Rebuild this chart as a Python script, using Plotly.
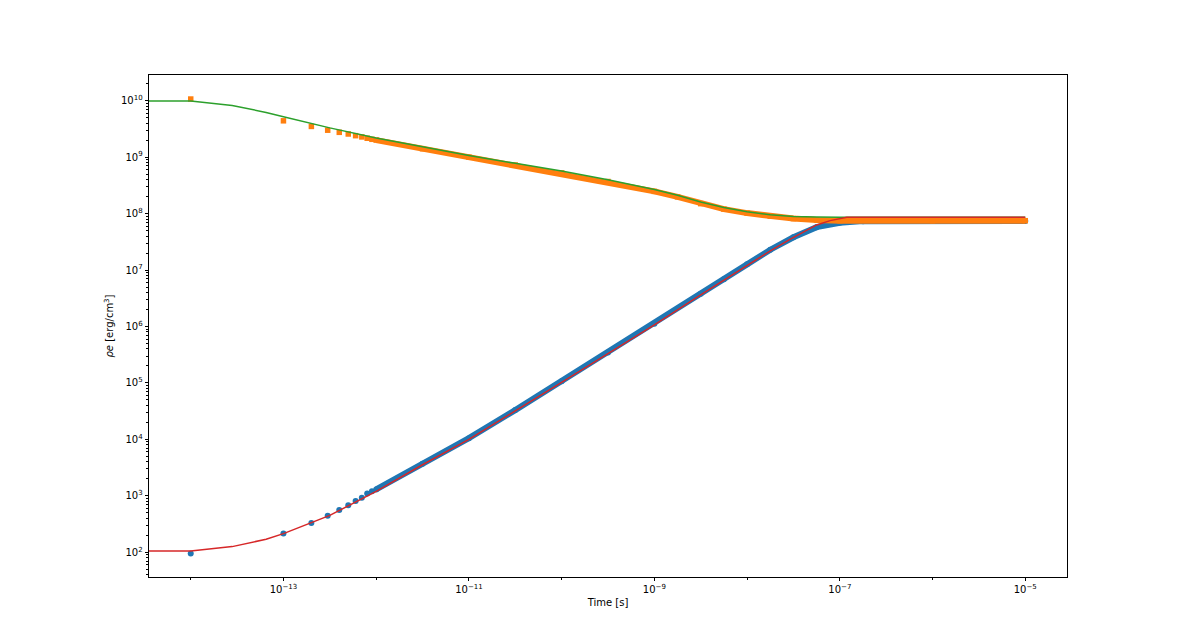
import plotly.graph_objects as go

# ---------------- data ----------------
# simulation markers: species 1 (orange squares), species 2 (blue circles)
orange_t = [1e-14, 1e-13, 2e-13, 3e-13, 4e-13, 5e-13, 6e-13, 7e-13, 8e-13, 9e-13,
            1e-12, 3.16e-12, 1e-11, 3.16e-11, 1e-10, 3.16e-10, 1e-9, 1.78e-9, 3.16e-9,
            5.62e-9, 1e-8, 1.78e-8, 3.16e-8, 5.62e-8, 1e-7, 1e-6, 1e-5]
orange_e = [1.07e10, 4.4e9, 3.5e9, 3.0e9, 2.75e9, 2.57e9, 2.4e9, 2.28e9, 2.16e9, 2.07e9,
            2.0e9, 1.41e9, 1.0e9, 7.24e8, 5.25e8, 3.7e8, 2.47e8, 1.98e8, 1.5e8,
            1.2e8, 1.02e8, 9.0e7, 8.15e7, 7.7e7, 7.5e7, 7.48e7, 7.48e7]

blue_t = [1e-14, 1e-13, 2e-13, 3e-13, 4e-13, 5e-13, 6e-13, 7e-13, 8e-13, 9e-13,
          1e-12, 3.16e-12, 1e-11, 3.16e-11, 1e-10, 3.16e-10, 1e-9, 3.16e-9,
          5.62e-9, 1e-8, 1.78e-8, 3.16e-8, 5.62e-8, 1e-7, 1.78e-7, 1e-6, 1e-5]
blue_e = [95, 214, 330, 445, 562, 681, 811, 927, 1095, 1200,
          1300, 3.7e3, 1.05e4, 3.3e4, 1.07e5, 3.47e5, 1.12e6, 3.8e6,
          6.9e6, 1.26e7, 2.29e7, 3.8e7, 5.75e7, 6.9e7, 7.35e7, 7.4e7, 7.4e7]

# reference curves: green (species 1) and red (species 2)
green_t = [1e-16, 1e-14, 2.8e-14, 6.5e-14, 1e-13, 2e-13, 3.16e-13, 1e-12, 3.16e-12,
           1e-11, 3.16e-11, 1e-10, 3.16e-10, 1e-9, 1.78e-9, 3.16e-9, 5.62e-9, 1e-8,
           1.78e-8, 3.16e-8, 5.62e-8, 1e-7, 1e-5]
green_e = [9.9e9, 9.9e9, 8.2e9, 6.2e9, 5.2e9, 3.9e9, 3.3e9, 2.19e9, 1.51e9,
           1.07e9, 7.76e8, 5.69e8, 3.98e8, 2.68e8, 2.12e8, 1.6e8, 1.28e8, 1.08e8,
           9.5e7, 8.9e7, 8.66e7, 8.6e7, 8.6e7]

red_t = [1e-16, 1e-14, 2.8e-14, 6.5e-14, 1e-13, 2e-13, 3.16e-13, 1e-12, 3.16e-12,
         1e-11, 3.16e-11, 1e-10, 3.16e-10, 1e-9, 3.16e-9, 1e-8, 1.78e-8, 2.9e-8,
         5.62e-8, 7.87e-8, 1e-7, 1.19e-7, 1e-5]
red_e = [105, 105, 126, 170, 214, 330, 450, 1200, 3.55e3,
         1.0e4, 3.16e4, 1.02e5, 3.3e5, 1.07e6, 3.63e6, 1.2e7, 2.19e7, 3.5e7,
         6.3e7, 7.5e7, 8.1e7, 8.6e7, 8.6e7]

x_tickvals = [1e-13, 1e-11, 1e-9, 1e-7, 1e-5]
x_ticktext = ["10<sup>−13</sup>", "10<sup>−11</sup>", "10<sup>−9</sup>",
              "10<sup>−7</sup>", "10<sup>−5</sup>"]
x_minorvals = [1e-14, 1e-12, 1e-10, 1e-8, 1e-6]
y_tickvals = [1e2, 1e3, 1e4, 1e5, 1e6, 1e7, 1e8, 1e9, 1e10]
y_ticktext = ["10<sup>%d</sup>" % k for k in range(2, 11)]

BLUE = "#1f77b4"
ORANGE = "#ff7f0e"
GREEN = "#2ca02c"
RED = "#d62728"

BAND_FROM = 1e-12  # where markers overlap into a continuous band

fig = go.Figure()

# blue circles
fig.add_trace(go.Scatter(x=[t for t in blue_t if t >= BAND_FROM],
                         y=[e for t, e in zip(blue_t, blue_e) if t >= BAND_FROM],
                         mode="lines", line=dict(color=BLUE, width=6),
                         hoverinfo="skip"))
fig.add_trace(go.Scatter(x=blue_t, y=blue_e, mode="markers",
                         marker=dict(symbol="circle", size=6, color=BLUE,
                                     line=dict(width=0))))
# orange squares
fig.add_trace(go.Scatter(x=[t for t in orange_t if t >= BAND_FROM],
                         y=[e for t, e in zip(orange_t, orange_e) if t >= BAND_FROM],
                         mode="lines", line=dict(color=ORANGE, width=6),
                         hoverinfo="skip"))
fig.add_trace(go.Scatter(x=orange_t, y=orange_e, mode="markers",
                         marker=dict(symbol="square", size=5.5, color=ORANGE,
                                     line=dict(width=0))))
# reference lines
fig.add_trace(go.Scatter(x=green_t, y=green_e, mode="lines",
                         line=dict(color=GREEN, width=1.5)))
fig.add_trace(go.Scatter(x=red_t, y=red_e, mode="lines",
                         line=dict(color=RED, width=1.5)))

axis_font = dict(family="DejaVu Sans", size=10, color="black")

fig.update_layout(
    width=1161, height=628,
    margin=dict(l=141, r=102, t=67, b=59),
    paper_bgcolor="white", plot_bgcolor="white",
    showlegend=False,
    font=axis_font,
)
fig.update_xaxes(
    type="log", range=[-14.45, -4.55],
    tickvals=x_tickvals, ticktext=x_ticktext,
    ticks="outside", ticklen=3.5, tickwidth=0.8, tickcolor="black",
    minor=dict(tickvals=x_minorvals, ticks="outside", ticklen=2,
               tickwidth=0.6, tickcolor="black", showgrid=False),
    showgrid=False, zeroline=False,
    showline=True, mirror=True, linecolor="black", linewidth=0.8,
    tickfont=axis_font,
    title=dict(text="Time [s]", font=axis_font, standoff=4),
)
fig.update_yaxes(
    type="log", range=[1.562, 10.455],
    tickvals=y_tickvals, ticktext=y_ticktext,
    ticks="outside", ticklen=3.5, tickwidth=0.8, tickcolor="black",
    minor=dict(dtick="D1", ticks="outside", ticklen=2,
               tickwidth=0.6, tickcolor="black", showgrid=False),
    showgrid=False, zeroline=False,
    showline=True, mirror=True, linecolor="black", linewidth=0.8,
    tickfont=axis_font,
    title=dict(text="<i>ρe</i> [erg/cm<sup>3</sup>]", font=axis_font, standoff=5),
)

fig.write_html("out.html")
